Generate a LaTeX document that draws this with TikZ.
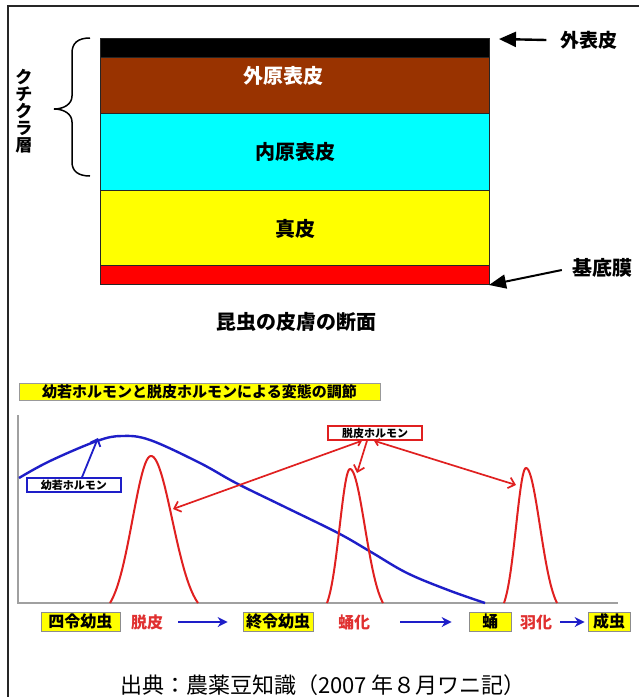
\documentclass[tikz,border=0pt]{standalone}
\usepackage{fontspec}
\newfontfamily\jp{Noto Sans CJK JP}
\usetikzlibrary{arrows.meta}
\definecolor{brownL}{HTML}{993300}
\definecolor{cyanL}{HTML}{00FFFF}
\definecolor{yellowL}{HTML}{FFFF00}
\definecolor{redL}{HTML}{FF0000}
\definecolor{curveBlue}{HTML}{1E1EC8}
\definecolor{curveRed}{HTML}{E02020}
\definecolor{labRed}{HTML}{E03030}
\definecolor{axisGray}{HTML}{A0A0A0}
\newcommand{\fs}[1]{\fontsize{#1}{#1}\selectfont}
\tikzset{
  layer/.style={draw=black!85, line width=0.9pt, minimum width=389pt, anchor=north west, inner sep=0pt},
  lbl/.style={font=\jp\bfseries\fs{20}, inner sep=0pt},
  ybox/.style={draw=black!45, fill=yellowL, line width=0.7pt, font=\jp\bfseries\fs{16}, inner sep=0pt, minimum height=19pt},
  redlab/.style={font=\jp\bfseries\fs{16}, text=labRed, inner sep=0pt},
  smallbox/.style={fill=white, line width=1.5pt, font=\jp\bfseries\fs{11}, inner sep=0pt, minimum height=14pt},
  barrow/.style={draw=curveBlue, line width=2.4pt, -{Stealth[length=10pt,width=10pt]}},
  rarrow/.style={draw=curveRed, line width=1.7pt, -{Straight Barb[length=6pt,width=11pt]}},
  rdarrow/.style={draw=curveRed, line width=1.7pt, {Straight Barb[length=4pt,width=7pt]}-{Straight Barb[length=6pt,width=11pt]}},
  peak/.style={draw=curveRed, line width=2pt},
}
\begin{document}
\begin{tikzpicture}[x=1pt,y=-1pt]
\useasboundingbox (0,0) rectangle (639,697);
\fill[white] (0,0) rectangle (639,697);
% frame
\draw[line width=1.4pt, black!85] (8,697) -- (8,6) -- (639,6);

% ---------------- skin layers ----------------
\node[layer, fill=black, minimum height=19pt] (epi) at (100,38) {};
\node[layer, fill=brownL, minimum height=56pt] (exo) at (100,57) {};
\node[layer, fill=cyanL, minimum height=77pt] (endo) at (100,113) {};
\node[layer, fill=yellowL, minimum height=75pt] (derm) at (100,190) {};
\node[layer, fill=redL, minimum height=19pt] (base) at (100,265) {};

\node[lbl, text=white] (exot) at (283,76) {外原表皮};
\node[lbl] (endot) at (295,152) {内原表皮};
\node[lbl] (dermt) at (295,229) {真皮};

\node[lbl, font=\jp\bfseries\fs{19}] (epit) at (589,40) {外表皮};
\node[lbl] (baset) at (602,268) {基底膜};
\coordinate (epitip) at (499,39);
\coordinate (basetip) at (489,285);
\draw[line width=2.4pt, -{Triangle[length=17pt,width=15pt]}] ([xshift=-14pt]epit.west) -- (epitip);
\draw[line width=2pt, -{Triangle[length=17pt,width=14pt]}] ([xshift=-10pt,yshift=-2pt]baset.west) -- (basetip);

% brace
\coordinate (brtop) at (90,38);
\coordinate (brbot) at (90,176);
\coordinate (brtip) at (54,109);
\draw[line width=1.5pt] (brtop) .. controls (78,38) and (72,43) .. (72,53) -- (72,96)
  .. controls (72,104) and (64,109) .. (brtip)
  .. controls (64,109) and (72,114) .. (72,122) -- (72,162)
  .. controls (72,171) and (78,176) .. (brbot);
\node[font=\jp\bfseries\fs{17}, align=center, inner sep=0pt] (cut) at (24,111)
  {\fontsize{17}{19}\selectfont ク\\チ\\ク\\ラ\\層};

\node[lbl, font=\jp\bfseries\fs{20}] (cap1) at (296,322) {昆虫の皮膚の断面};

% ---------------- hormone chart ----------------
\node[draw=black!40, fill=yellowL, line width=0.9pt, minimum width=361pt, minimum height=17pt,
      inner sep=0pt, font=\jp\bfseries\fs{15}] (title) at (199.5,391.5) {幼若ホルモンと脱皮ホルモンによる変態の調節};

% axes
\coordinate (origin) at (18,603);
\coordinate (ytop) at (18,415);
\coordinate (xend) at (618,603);
\draw[axisGray, line width=1.8pt] (ytop) -- (origin) -- (xend);

% juvenile hormone (blue)
\draw[curveBlue, line width=2.4pt] plot[smooth, tension=0.6] coordinates {
  (19,478) (50,461) (97,441) (122,436) (150,440) (200,463) (236,483) (285,507)
  (338,533) (371,552) (407,573) (448,590) (485,603)};

% ecdysone peaks (red)  s = 0.45 D
\draw[peak] plot[domain=110:151, samples=40]
  (\x, {603 - 147*(exp(-((\x-151)*(\x-151))/680.7) - 0.0847)/0.9153})
  -- plot[domain=151:198, samples=40]
  (\x, {603 - 147*(exp(-((\x-151)*(\x-151))/894.6) - 0.0847)/0.9153});
\draw[peak] plot[domain=327:350, samples=30]
  (\x, {603 - 134*(exp(-((\x-350)*(\x-350))/214.2) - 0.0847)/0.9153})
  -- plot[domain=350:383, samples=30]
  (\x, {603 - 134*(exp(-((\x-350)*(\x-350))/441.0) - 0.0847)/0.9153});
\draw[peak] plot[domain=504:526, samples=30]
  (\x, {603 - 135*(exp(-((\x-526)*(\x-526))/196.0) - 0.0847)/0.9153})
  -- plot[domain=526:557, samples=30]
  (\x, {603 - 135*(exp(-((\x-526)*(\x-526))/389.2) - 0.0847)/0.9153});

% labels with arrows
\node[smallbox, draw=curveBlue, minimum width=94pt] (jh) at (74,485) {幼若ホルモン};
\coordinate (jhtip) at (98,438);
\draw[draw=curveBlue, line width=1.8pt, -{Straight Barb[length=6pt,width=11pt]}] ([xshift=8pt]jh.north) -- (jhtip);

\node[smallbox, draw=curveRed, minimum width=94pt] (ec) at (375,433) {脱皮ホルモン};
\coordinate (p1) at (173,509);
\coordinate (p2) at (357,473);
\coordinate (p3) at (516,485);
\draw[rdarrow] ([xshift=-13pt]ec.south) -- (p1);
\draw[rarrow] ([xshift=-8pt]ec.south) -- (p2);
\draw[rdarrow] ([xshift=-1pt]ec.south) -- (p3);

% stage row
\node[ybox, minimum width=79pt] (s1) at (80.5,621.5) {四令幼虫};
\node[redlab] (m1) at (147,622) {脱皮};
\node[ybox, minimum width=70pt] (s2) at (278,621.5) {終令幼虫};
\node[redlab] (m2) at (354,622) {蛹化};
\node[ybox, minimum width=42pt] (s3) at (490,621.5) {蛹};
\node[redlab] (m3) at (536,622) {羽化};
\node[ybox, minimum width=42pt] (s4) at (609,621.5) {成虫};
\draw[barrow, shorten <=15pt, shorten >=15pt] (m1.east) -- (m1.east -| s2.west);
\draw[barrow, shorten <=30pt, shorten >=17pt] (m2.east) -- (m2.east -| s3.west);
\draw[barrow, shorten <=8pt, shorten >=3pt] (m3.east) -- (m3.east -| s4.west);

% source
\node[font=\jp\fs{22}, inner sep=0pt] (src) at (323,685) {出典：農薬豆知識（2007 年８月ワニ記）};
\end{tikzpicture}
\end{document}
